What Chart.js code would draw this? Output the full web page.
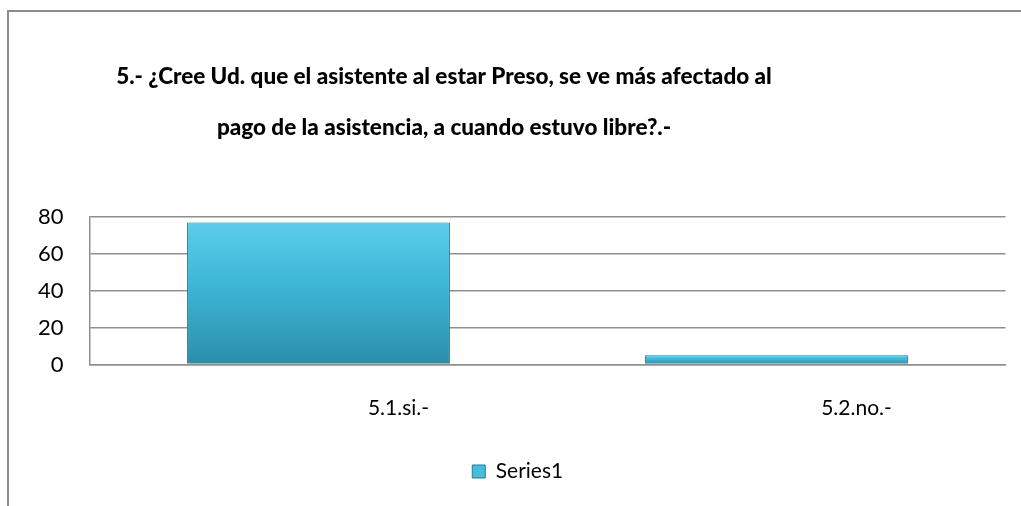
<!DOCTYPE html>
<html>
<head>
<meta charset="utf-8">
<script src="https://cdn.jsdelivr.net/npm/chart.js@4.4.1/dist/chart.umd.min.js"></script>
<style>
  html, body { margin: 0; padding: 0; background: #fff; }
  #wrap { width: 1021px; height: 506px; position: relative; }
</style>
</head>
<body>
<div id="wrap"><canvas id="chart" width="1021" height="506"></canvas></div>
<script>
const categories = ['5.1.si.-', '5.2.no.-'];
const series1 = [77, 5];
const yTicks = [0, 20, 40, 60, 80];
const titleLines = [
  '5.- ¿Cree Ud. que el asistente al estar Preso, se ve más afectado al',
  'pago de la asistencia, a cuando estuvo libre?.-'
];

// outer frame of the chart box (top + left edges only)
const framePlugin = {
  id: 'frame',
  beforeDraw(chart) {
    const ctx = chart.ctx;
    ctx.save();
    ctx.strokeStyle = '#8c8c8c';
    ctx.lineWidth = 2;
    ctx.beginPath();
    ctx.moveTo(8, 506);
    ctx.lineTo(8, 11);
    ctx.lineTo(1021, 11);
    ctx.stroke();
    ctx.restore();
  }
};

// two-line title, centred a bit left of the canvas middle like the original
const titlePlugin = {
  id: 'bigTitle',
  afterDraw(chart) {
    const ctx = chart.ctx;
    ctx.save();
    ctx.fillStyle = '#000';
    ctx.font = '900 22.5px Lato';
    ctx.textAlign = 'center';
    ctx.textBaseline = 'middle';
    ctx.fillText(titleLines[0], 444, 77);
    ctx.fillText(titleLines[1], 444, 128);
    ctx.restore();
  }
};

function barFill(c) {
  const chart = c.chart;
  const y = chart.scales && chart.scales.y;
  if (!chart.chartArea || !y || c.raw === undefined) return '#3bb5d6';
  const top = y.getPixelForValue(c.raw);
  const base = y.getPixelForValue(0);
  const g = chart.ctx.createLinearGradient(0, top, 0, base);
  g.addColorStop(0, '#5ccdeb');
  g.addColorStop(0.45, '#3db5d6');
  g.addColorStop(1, '#2b8ea9');
  return g;
}

new Chart(document.getElementById('chart'), {
  type: 'bar',
  data: {
    labels: categories,
    datasets: [{
      label: 'Series1',
      data: series1,
      backgroundColor: barFill,
      borderColor: '#2a7b91',
      borderWidth: 1,
      barPercentage: 0.574,
      categoryPercentage: 1
    }]
  },
  options: {
    responsive: false,
    animation: false,
    layout: { padding: { top: 217, left: 30, right: 15.5, bottom: 14 } },
    plugins: {
      legend: {
        position: 'bottom',
        labels: {
          color: '#000',
          font: { family: 'Lato', size: 21 },
          boxWidth: 13,
          boxHeight: 13,
          padding: 10,
          generateLabels(chart) {
            const items = Chart.defaults.plugins.legend.labels.generateLabels(chart);
            items.forEach(it => {
              it.fillStyle = '#45bedd';
              it.strokeStyle = '#2a7b91';
              it.lineWidth = 1;
            });
            return items;
          }
        }
      },
      title: { display: false },
      tooltip: { enabled: false }
    },
    scales: {
      x: {
        grid: { color: 'rgba(0,0,0,0)', drawTicks: false },
        border: { display: true, color: '#8f8f8f', width: 1.5 },
        ticks: {
          color: '#000',
          font: { family: 'Lato', size: 21 },
          padding: 31,
          labelOffset: 80
        },
        afterFit(scale) { scale.height = 86.5; }
      },
      y: {
        min: 0,
        max: 80,
        afterBuildTicks(scale) { scale.ticks = yTicks.map(v => ({ value: v })); },
        grid: { color: '#8f8f8f', lineWidth: 1.5, drawTicks: false },
        border: { display: true, color: '#8f8f8f', width: 1.5 },
        ticks: {
          color: '#000',
          font: { family: 'Lato', size: 22 },
          padding: 26
        },
        afterFit(scale) { scale.width = 59.5; }
      }
    }
  },
  plugins: [framePlugin, titlePlugin]
});
</script>
</body>
</html>
